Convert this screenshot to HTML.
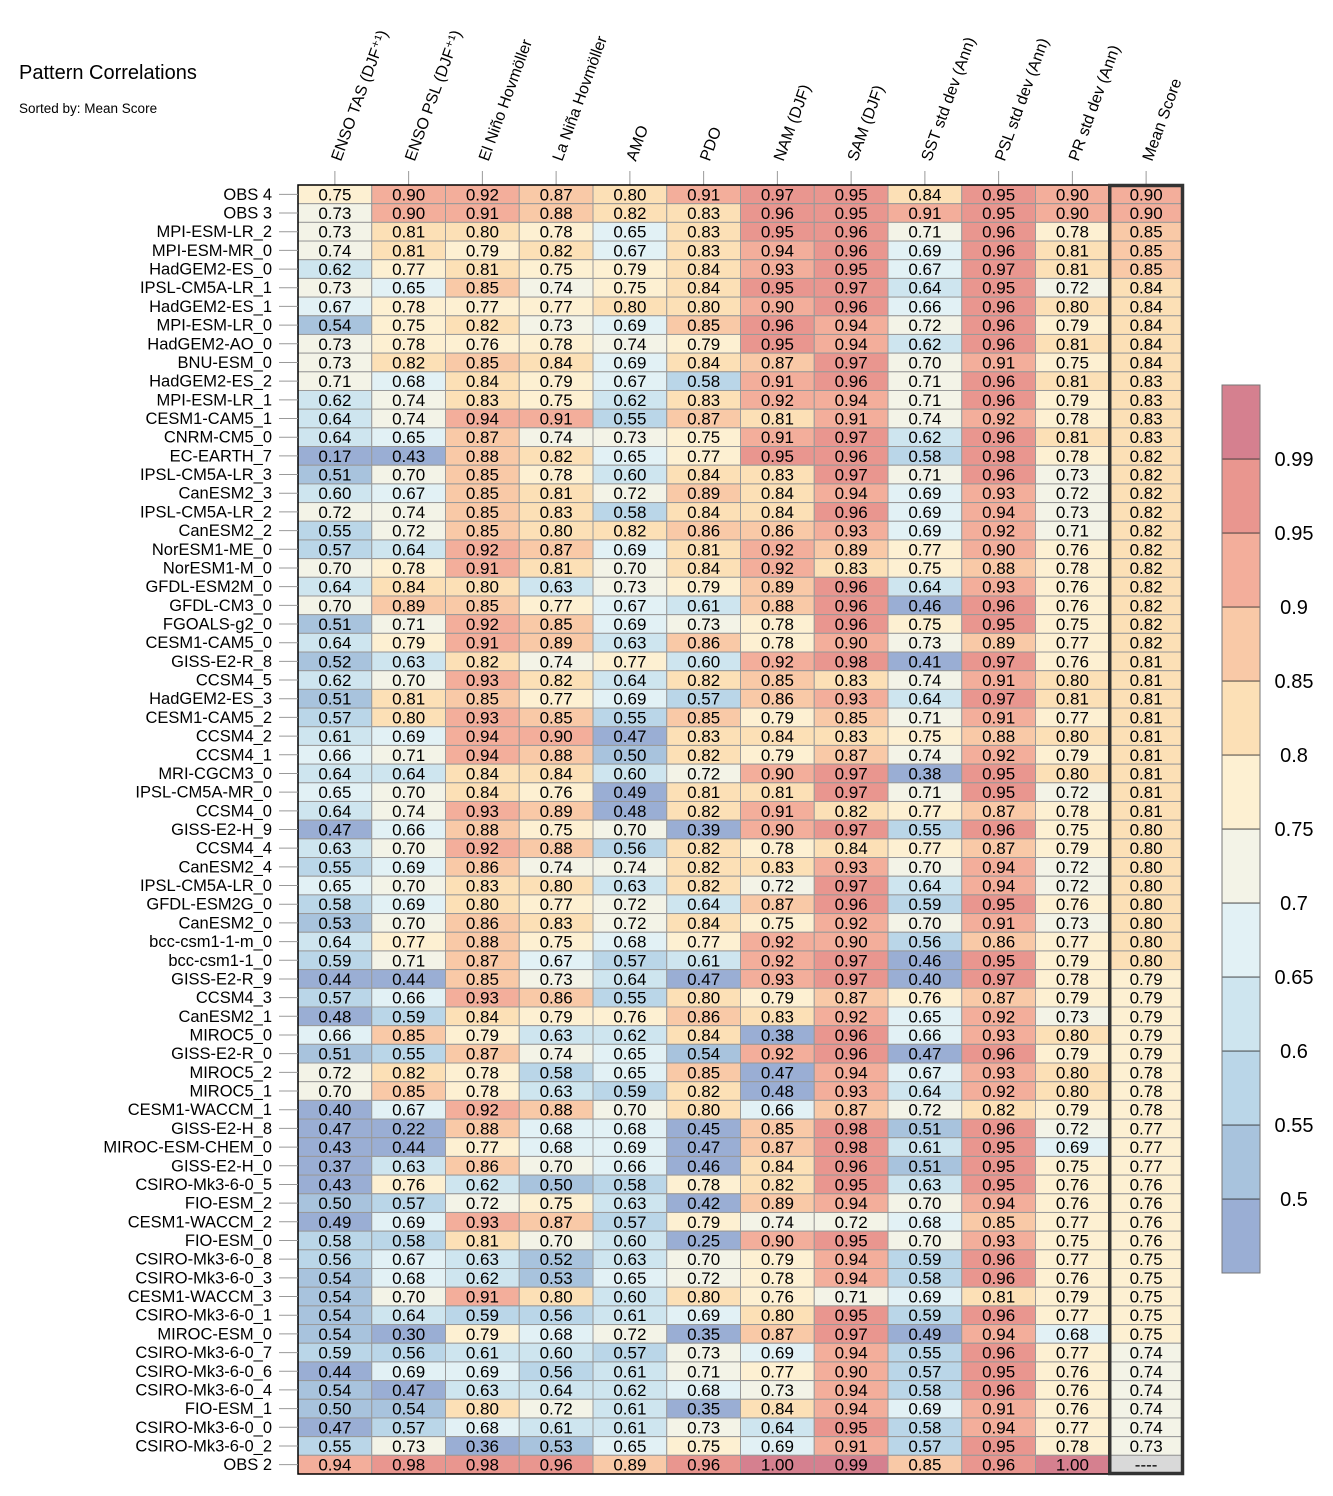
<!DOCTYPE html>
<html><head><meta charset="utf-8"><style>
html,body{margin:0;padding:0;background:#fff;}
svg{display:block;font-family:"Liberation Sans",sans-serif;}
</style></head><body>
<svg id="chart" width="1333" height="1496" xmlns="http://www.w3.org/2000/svg">
<text x="19" y="79" font-size="20">Pattern Correlations</text>
<text x="19" y="113" font-size="13.5">Sorted by: Mean Score</text>
<g id="hdr"></g><g id="cells"></g><g id="rows"></g><g id="cbar"></g>
</svg>
<script>
const columns = ["ENSO TAS (DJF⁺¹)","ENSO PSL (DJF⁺¹)","El Niño Hovmöller","La Niña Hovmöller","AMO","PDO","NAM (DJF)","SAM (DJF)","SST std dev (Ann)","PSL std dev (Ann)","PR std dev (Ann)","Mean Score"];
const models = ["OBS 4","OBS 3","MPI-ESM-LR_2","MPI-ESM-MR_0","HadGEM2-ES_0","IPSL-CM5A-LR_1","HadGEM2-ES_1","MPI-ESM-LR_0","HadGEM2-AO_0","BNU-ESM_0","HadGEM2-ES_2","MPI-ESM-LR_1","CESM1-CAM5_1","CNRM-CM5_0","EC-EARTH_7","IPSL-CM5A-LR_3","CanESM2_3","IPSL-CM5A-LR_2","CanESM2_2","NorESM1-ME_0","NorESM1-M_0","GFDL-ESM2M_0","GFDL-CM3_0","FGOALS-g2_0","CESM1-CAM5_0","GISS-E2-R_8","CCSM4_5","HadGEM2-ES_3","CESM1-CAM5_2","CCSM4_2","CCSM4_1","MRI-CGCM3_0","IPSL-CM5A-MR_0","CCSM4_0","GISS-E2-H_9","CCSM4_4","CanESM2_4","IPSL-CM5A-LR_0","GFDL-ESM2G_0","CanESM2_0","bcc-csm1-1-m_0","bcc-csm1-1_0","GISS-E2-R_9","CCSM4_3","CanESM2_1","MIROC5_0","GISS-E2-R_0","MIROC5_2","MIROC5_1","CESM1-WACCM_1","GISS-E2-H_8","MIROC-ESM-CHEM_0","GISS-E2-H_0","CSIRO-Mk3-6-0_5","FIO-ESM_2","CESM1-WACCM_2","FIO-ESM_0","CSIRO-Mk3-6-0_8","CSIRO-Mk3-6-0_3","CESM1-WACCM_3","CSIRO-Mk3-6-0_1","MIROC-ESM_0","CSIRO-Mk3-6-0_7","CSIRO-Mk3-6-0_6","CSIRO-Mk3-6-0_4","FIO-ESM_1","CSIRO-Mk3-6-0_0","CSIRO-Mk3-6-0_2","OBS 2"];
const values = [
[.75,.90,.92,.87,.80,.91,.97,.95,.84,.95,.90,.90],
[.73,.90,.91,.88,.82,.83,.96,.95,.91,.95,.90,.90],
[.73,.81,.80,.78,.65,.83,.95,.96,.71,.96,.78,.85],
[.74,.81,.79,.82,.67,.83,.94,.96,.69,.96,.81,.85],
[.62,.77,.81,.75,.79,.84,.93,.95,.67,.97,.81,.85],
[.73,.65,.85,.74,.75,.84,.95,.97,.64,.95,.72,.84],
[.67,.78,.77,.77,.80,.80,.90,.96,.66,.96,.80,.84],
[.54,.75,.82,.73,.69,.85,.96,.94,.72,.96,.79,.84],
[.73,.78,.76,.78,.74,.79,.95,.94,.62,.96,.81,.84],
[.73,.82,.85,.84,.69,.84,.87,.97,.70,.91,.75,.84],
[.71,.68,.84,.79,.67,.58,.91,.96,.71,.96,.81,.83],
[.62,.74,.83,.75,.62,.83,.92,.94,.71,.96,.79,.83],
[.64,.74,.94,.91,.55,.87,.81,.91,.74,.92,.78,.83],
[.64,.65,.87,.74,.73,.75,.91,.97,.62,.96,.81,.83],
[.17,.43,.88,.82,.65,.77,.95,.96,.58,.98,.78,.82],
[.51,.70,.85,.78,.60,.84,.83,.97,.71,.96,.73,.82],
[.60,.67,.85,.81,.72,.89,.84,.94,.69,.93,.72,.82],
[.72,.74,.85,.83,.58,.84,.84,.96,.69,.94,.73,.82],
[.55,.72,.85,.80,.82,.86,.86,.93,.69,.92,.71,.82],
[.57,.64,.92,.87,.69,.81,.92,.89,.77,.90,.76,.82],
[.70,.78,.91,.81,.70,.84,.92,.83,.75,.88,.78,.82],
[.64,.84,.80,.63,.73,.79,.89,.96,.64,.93,.76,.82],
[.70,.89,.85,.77,.67,.61,.88,.96,.46,.96,.76,.82],
[.51,.71,.92,.85,.69,.73,.78,.96,.75,.95,.75,.82],
[.64,.79,.91,.89,.63,.86,.78,.90,.73,.89,.77,.82],
[.52,.63,.82,.74,.77,.60,.92,.98,.41,.97,.76,.81],
[.62,.70,.93,.82,.64,.82,.85,.83,.74,.91,.80,.81],
[.51,.81,.85,.77,.69,.57,.86,.93,.64,.97,.81,.81],
[.57,.80,.93,.85,.55,.85,.79,.85,.71,.91,.77,.81],
[.61,.69,.94,.90,.47,.83,.84,.83,.75,.88,.80,.81],
[.66,.71,.94,.88,.50,.82,.79,.87,.74,.92,.79,.81],
[.64,.64,.84,.84,.60,.72,.90,.97,.38,.95,.80,.81],
[.65,.70,.84,.76,.49,.81,.81,.97,.71,.95,.72,.81],
[.64,.74,.93,.89,.48,.82,.91,.82,.77,.87,.78,.81],
[.47,.66,.88,.75,.70,.39,.90,.97,.55,.96,.75,.80],
[.63,.70,.92,.88,.56,.82,.78,.84,.77,.87,.79,.80],
[.55,.69,.86,.74,.74,.82,.83,.93,.70,.94,.72,.80],
[.65,.70,.83,.80,.63,.82,.72,.97,.64,.94,.72,.80],
[.58,.69,.80,.77,.72,.64,.87,.96,.59,.95,.76,.80],
[.53,.70,.86,.83,.72,.84,.75,.92,.70,.91,.73,.80],
[.64,.77,.88,.75,.68,.77,.92,.90,.56,.86,.77,.80],
[.59,.71,.87,.67,.57,.61,.92,.97,.46,.95,.79,.80],
[.44,.44,.85,.73,.64,.47,.93,.97,.40,.97,.78,.79],
[.57,.66,.93,.86,.55,.80,.79,.87,.76,.87,.79,.79],
[.48,.59,.84,.79,.76,.86,.83,.92,.65,.92,.73,.79],
[.66,.85,.79,.63,.62,.84,.38,.96,.66,.93,.80,.79],
[.51,.55,.87,.74,.65,.54,.92,.96,.47,.96,.79,.79],
[.72,.82,.78,.58,.65,.85,.47,.94,.67,.93,.80,.78],
[.70,.85,.78,.63,.59,.82,.48,.93,.64,.92,.80,.78],
[.40,.67,.92,.88,.70,.80,.66,.87,.72,.82,.79,.78],
[.47,.22,.88,.68,.68,.45,.85,.98,.51,.96,.72,.77],
[.43,.44,.77,.68,.69,.47,.87,.98,.61,.95,.69,.77],
[.37,.63,.86,.70,.66,.46,.84,.96,.51,.95,.75,.77],
[.43,.76,.62,.50,.58,.78,.82,.95,.63,.95,.76,.76],
[.50,.57,.72,.75,.63,.42,.89,.94,.70,.94,.76,.76],
[.49,.69,.93,.87,.57,.79,.74,.72,.68,.85,.77,.76],
[.58,.58,.81,.70,.60,.25,.90,.95,.70,.93,.75,.76],
[.56,.67,.63,.52,.63,.70,.79,.94,.59,.96,.77,.75],
[.54,.68,.62,.53,.65,.72,.78,.94,.58,.96,.76,.75],
[.54,.70,.91,.80,.60,.80,.76,.71,.69,.81,.79,.75],
[.54,.64,.59,.56,.61,.69,.80,.95,.59,.96,.77,.75],
[.54,.30,.79,.68,.72,.35,.87,.97,.49,.94,.68,.75],
[.59,.56,.61,.60,.57,.73,.69,.94,.55,.96,.77,.74],
[.44,.69,.69,.56,.61,.71,.77,.90,.57,.95,.76,.74],
[.54,.47,.63,.64,.62,.68,.73,.94,.58,.96,.76,.74],
[.50,.54,.80,.72,.61,.35,.84,.94,.69,.91,.76,.74],
[.47,.57,.68,.61,.61,.73,.64,.95,.58,.94,.77,.74],
[.55,.73,.36,.53,.65,.75,.69,.91,.57,.95,.78,.73],
[.94,.98,.98,.96,.89,.96,1.00,.99,.85,.96,1.00,null]
];
const levels = [0.5,0.55,0.6,0.65,0.7,0.75,0.8,0.85,0.9,0.95,0.99];
const levelLabels = ["0.5","0.55","0.6","0.65","0.7","0.75","0.8","0.85","0.9","0.95","0.99"];
const palette = ["#9aaed4","#a8c3dd","#bad6e8","#cee5ef","#e2f1f5","#f3f3e7","#fdf0d2","#fce0b6","#f9c9a7","#f3ae9b","#e9968f","#d5808f"];

const NS="http://www.w3.org/2000/svg";
const X0=298, CW=73.75, Y0=185, RH=(1474-185)/models.length;
const xPos=i=>X0+i*CW;
const yPos=j=>Y0+j*RH;
function colorOf(v){ if(v===null) return "#d9d9d9"; let k=0; for(let i=0;i<levels.length;i++){ if(v>=levels[i]-1e-9) k=i+1; } return palette[k]; }
function mk(tag,attrs,parent){const e=document.createElementNS(NS,tag);for(const k in attrs)e.setAttribute(k,attrs[k]);parent.appendChild(e);return e;}
const cells=document.getElementById('cells'), rows=document.getElementById('rows'), hdr=document.getElementById('hdr'), cbar=document.getElementById('cbar');

columns.forEach((c,i)=>{
  const cx=xPos(i)+CW/2;
  const t=mk('line',{x1:cx,x2:cx,y1:171,y2:Y0,stroke:'#999','stroke-width':1},hdr);
  
  
  const tx=mk('text',{x:0,y:0,'font-size':16,transform:`translate(${cx+6},${162}) rotate(-70)`},hdr);
  tx.textContent=c;
  
  
});

models.forEach((m,j)=>{
  const cy=yPos(j)+RH/2;
  const l=mk('text',{x:272,y:cy+5.5,'font-size':16.5,'text-anchor':'end'},rows);
  l.textContent=m;
  
  
  const tk=mk('line',{x1:279,x2:X0,y1:cy,y2:cy,stroke:'#999','stroke-width':1},rows);
  
  
  values[j].forEach((v,i)=>{
    const r=mk('rect',{x:xPos(i),y:yPos(j),width:CW,height:RH,fill:colorOf(v),stroke:'#999','stroke-width':1},cells);
    
    
    const t=mk('text',{x:xPos(i)+CW/2,y:cy+6,'font-size':17,'text-anchor':'middle'},cells);
    t.textContent = v===null ? '----' : v.toFixed(2);
    
    
  });
});
const frame=mk('rect',{x:X0,y:Y0,width:CW*columns.length,height:RH*models.length,fill:'none',stroke:'#000','stroke-width':1.5},cells);


const box=mk('rect',{x:xPos(11)+0.5,y:Y0+0.5,width:CW-1,height:RH*models.length-1,fill:'none',stroke:'#333','stroke-width':3.5},cells);



const CB_X=1222, CB_W=38, CB_TOP=385, SEG=74;
palette.forEach((p,k)=>{
  const y=CB_TOP+(palette.length-1-k)*SEG;
  const r=mk('rect',{x:CB_X,y:y,width:CB_W,height:SEG,fill:p,stroke:'#333','stroke-width':0.8},cbar);
  
  
});
levels.forEach((lv,i)=>{
  const y=CB_TOP+(levels.length-i)*SEG;
  const t=mk('text',{x:1294,y:y+7,'font-size':20,'text-anchor':'middle'},cbar);
  t.textContent=levelLabels[i];
  
  
});
const cf=mk('rect',{x:CB_X,y:CB_TOP,width:CB_W,height:SEG*palette.length,fill:'none',stroke:'#777','stroke-width':1},cbar);


</script>
</body></html>
